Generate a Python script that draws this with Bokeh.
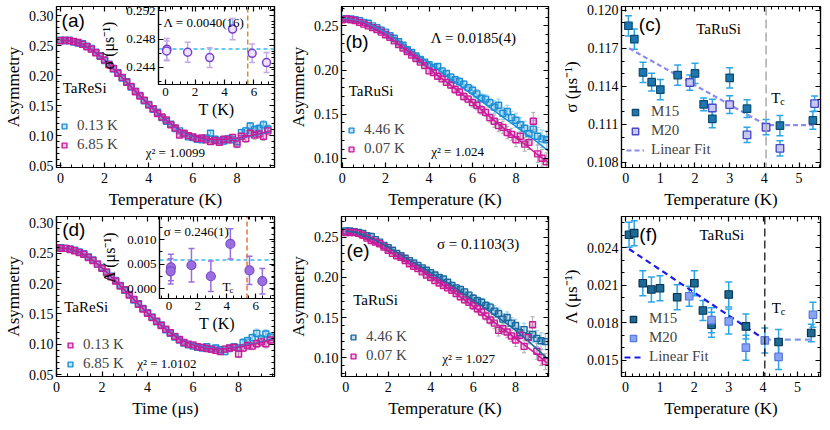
from bokeh.plotting import figure
from bokeh.models import (Range1d, LinearAxis, SingleIntervalTicker, PrintfTickFormatter,
                          Label, Legend, LegendItem, Span)
from bokeh.layouts import row, column
from bokeh.embed import file_html
from bokeh.resources import INLINE

SERIF = "Liberation Serif"
SANS = "Liberation Sans"

# ---------------- data ----------------
time_bins = [0.0, 0.2, 0.4, 0.6, 0.8, 1.0, 1.2, 1.4, 1.6, 1.8,
             2.0, 2.2, 2.4, 2.6, 2.8, 3.0, 3.2, 3.4, 3.6, 3.8,
             4.0, 4.2, 4.4, 4.6, 4.8, 5.0, 5.2, 5.4, 5.6, 5.8,
             6.0, 6.2, 6.4, 6.6, 6.8, 7.0, 7.2, 7.4, 7.6, 7.8,
             8.0, 8.2, 8.4, 8.6, 8.8, 9.0, 9.2, 9.4]
fit_t = [0.0, 0.5, 1.0, 1.5, 2.0, 2.5, 3.0, 3.5, 4.0, 4.5,
         5.0, 5.5, 6.0, 6.5, 7.0, 7.5, 8.0, 8.5, 9.0, 9.5]

err_ReSi = [0.0015] * 10 + [0.002] * 10 + [0.0025] * 5 + [0.003] * 5 + [0.004] * 5 + [0.005] * 5 + [0.006] * 4 + [0.007] * 4
err_RuSi = [0.0015] * 10 + [0.002] * 10 + [0.003] * 5 + [0.004] * 5 + [0.005] * 5 + [0.007] * 5 + [0.008] * 4 + [0.010] * 4

# (a) TaReSi
a_013K = [0.259, 0.258, 0.259, 0.256, 0.254, 0.253, 0.249, 0.245, 0.239, 0.233,
          0.225, 0.219, 0.211, 0.205, 0.196, 0.190, 0.181, 0.174, 0.167, 0.158,
          0.152, 0.144, 0.139, 0.130, 0.124, 0.119, 0.112, 0.108, 0.103, 0.098,
          0.097, 0.094, 0.093, 0.096, 0.104, 0.094, 0.092, 0.091, 0.095, 0.093,
          0.090, 0.105, 0.108, 0.116, 0.110, 0.112, 0.118, 0.111]
a_685K = [0.258, 0.259, 0.258, 0.257, 0.255, 0.252, 0.248, 0.244, 0.238, 0.232,
          0.226, 0.218, 0.212, 0.204, 0.197, 0.189, 0.182, 0.173, 0.166, 0.159,
          0.151, 0.145, 0.137, 0.131, 0.126, 0.118, 0.113, 0.101, 0.104, 0.100,
          0.098, 0.095, 0.096, 0.093, 0.090, 0.092, 0.089, 0.094, 0.093, 0.097,
          0.086, 0.099, 0.095, 0.104, 0.101, 0.103, 0.099, 0.108]
fit_a_013K = [0.259, 0.2575, 0.252, 0.241, 0.226, 0.208, 0.189, 0.170, 0.151, 0.134,
              0.119, 0.107, 0.099, 0.094, 0.093, 0.093, 0.095, 0.098, 0.102, 0.107]
fit_a_685K = [0.259, 0.2575, 0.252, 0.241, 0.226, 0.208, 0.189, 0.170, 0.152, 0.135,
              0.120, 0.108, 0.100, 0.095, 0.093, 0.094, 0.096, 0.099, 0.103, 0.108]

# (b) TaRuSi
b_446K = [0.258, 0.258, 0.258, 0.257, 0.256, 0.254, 0.253, 0.250, 0.248, 0.245,
          0.243, 0.239, 0.236, 0.232, 0.228, 0.223, 0.220, 0.216, 0.212, 0.209,
          0.206, 0.203, 0.204, 0.199, 0.196, 0.192, 0.189, 0.187, 0.184, 0.180,
          0.177, 0.173, 0.168, 0.167, 0.163, 0.158, 0.160, 0.151, 0.153, 0.146,
          0.143, 0.138, 0.134, 0.128, 0.133, 0.125, 0.122, 0.121]
b_007K = [0.257, 0.258, 0.257, 0.256, 0.254, 0.252, 0.250, 0.248, 0.246, 0.243,
          0.240, 0.237, 0.233, 0.229, 0.225, 0.221, 0.217, 0.213, 0.209, 0.205,
          0.199, 0.197, 0.193, 0.190, 0.186, 0.183, 0.178, 0.175, 0.170, 0.167,
          0.163, 0.160, 0.155, 0.152, 0.146, 0.142, 0.137, 0.135, 0.129, 0.127,
          0.121, 0.125, 0.116, 0.118, 0.142, 0.105, 0.100, 0.096]
fit_b_446K = [0.258, 0.257, 0.254, 0.249, 0.243, 0.235, 0.226, 0.217, 0.208, 0.199,
              0.190, 0.181, 0.172, 0.163, 0.154, 0.145, 0.136, 0.127, 0.118, 0.108]
fit_b_007K = [0.257, 0.256, 0.253, 0.247, 0.240, 0.231, 0.222, 0.212, 0.202, 0.192,
              0.183, 0.173, 0.163, 0.153, 0.143, 0.133, 0.123, 0.114, 0.104, 0.095]

# (c) sigma vs T
c_T_M15 = [0.08, 0.25, 0.5, 0.75, 1.0, 1.5, 2.0, 2.25, 2.5, 3.0, 3.5, 4.45, 5.4]
c_sig_M15 = [0.11878, 0.11772, 0.11510, 0.11433, 0.11375, 0.11489, 0.11502, 0.11258,
             0.11144, 0.11467, 0.11224, 0.11091, 0.11131]
c_err_M15 = [0.0008, 0.0008, 0.0008, 0.0007, 0.0008, 0.0008, 0.0008, 0.0005, 0.0007,
             0.0008, 0.0007, 0.0008, 0.0007]
c_T_M20 = [1.85, 2.5, 3.0, 3.5, 4.05, 4.45, 5.45]
c_sig_M20 = [0.11430, 0.11229, 0.11256, 0.11017, 0.11078, 0.10911, 0.11264]
c_err_M20 = [0.0006, 0.0007, 0.0007, 0.0006, 0.0006, 0.0006, 0.0006]
c_fit_T = [0.1, 4.05, 5.5]
c_fit_sig = [0.1170, 0.11095, 0.11095]
Tc_RuSi = 4.05

# (d) TaReSi (ZF)
d_013K = [0.259, 0.258, 0.258, 0.256, 0.254, 0.251, 0.248, 0.243, 0.238, 0.232,
          0.225, 0.219, 0.211, 0.204, 0.196, 0.190, 0.181, 0.174, 0.166, 0.158,
          0.151, 0.144, 0.138, 0.131, 0.125, 0.119, 0.113, 0.108, 0.103, 0.100,
          0.099, 0.096, 0.095, 0.093, 0.092, 0.090, 0.088, 0.092, 0.094, 0.095,
          0.084, 0.094, 0.098, 0.097, 0.101, 0.104, 0.101, 0.107]
d_685K = [0.259, 0.259, 0.258, 0.257, 0.255, 0.252, 0.249, 0.244, 0.239, 0.232,
          0.226, 0.218, 0.212, 0.205, 0.197, 0.189, 0.182, 0.173, 0.167, 0.159,
          0.152, 0.145, 0.137, 0.132, 0.124, 0.118, 0.112, 0.107, 0.102, 0.099,
          0.097, 0.095, 0.094, 0.096, 0.092, 0.094, 0.091, 0.088, 0.093, 0.096,
          0.094, 0.103, 0.106, 0.111, 0.118, 0.109, 0.117, 0.112]
fit_d_013K = [0.259, 0.2575, 0.252, 0.241, 0.226, 0.208, 0.189, 0.170, 0.151, 0.134,
              0.119, 0.107, 0.099, 0.094, 0.092, 0.093, 0.095, 0.099, 0.103, 0.108]
fit_d_685K = [0.259, 0.2575, 0.252, 0.241, 0.226, 0.208, 0.189, 0.170, 0.152, 0.135,
              0.120, 0.108, 0.100, 0.095, 0.093, 0.094, 0.096, 0.100, 0.104, 0.109]

# (e) TaRuSi
e_446K = [0.258, 0.258, 0.257, 0.256, 0.255, 0.252, 0.251, 0.247, 0.244, 0.240,
          0.237, 0.234, 0.230, 0.227, 0.224, 0.221, 0.218, 0.215, 0.212, 0.209,
          0.206, 0.203, 0.200, 0.198, 0.194, 0.190, 0.187, 0.185, 0.182, 0.178,
          0.174, 0.171, 0.169, 0.165, 0.163, 0.158, 0.155, 0.148, 0.150, 0.143,
          0.140, 0.131, 0.135, 0.126, 0.129, 0.124, 0.121, 0.120]
e_007K = [0.256, 0.256, 0.256, 0.255, 0.253, 0.249, 0.246, 0.244, 0.242, 0.238,
          0.234, 0.230, 0.227, 0.225, 0.221, 0.217, 0.214, 0.211, 0.207, 0.203,
          0.200, 0.196, 0.193, 0.190, 0.187, 0.184, 0.180, 0.176, 0.172, 0.169,
          0.165, 0.161, 0.157, 0.152, 0.147, 0.143, 0.134, 0.136, 0.132, 0.127,
          0.122, 0.128, 0.114, 0.125, 0.141, 0.108, 0.100, 0.095]
fit_e_446K = [0.258, 0.256, 0.251, 0.245, 0.238, 0.230, 0.222, 0.214, 0.206, 0.198,
              0.190, 0.181, 0.172, 0.163, 0.153, 0.144, 0.134, 0.123, 0.111, 0.099]
fit_e_007K = [0.256, 0.252, 0.247, 0.240, 0.233, 0.225, 0.217, 0.209, 0.200, 0.192,
              0.183, 0.174, 0.164, 0.154, 0.144, 0.134, 0.124, 0.114, 0.104, 0.093]

# (f) Lambda vs T
f_T_M15 = [0.1, 0.25, 0.5, 0.75, 1.0, 1.5, 2.0, 2.25, 2.5, 3.0, 3.5, 4.45, 5.4]
f_lam_M15 = [0.02504, 0.02517, 0.02116, 0.02066, 0.02076, 0.02004, 0.02116, 0.01898,
             0.01784, 0.02026, 0.01771, 0.01646, 0.01718]
f_err_M15 = [0.0010, 0.0010, 0.0010, 0.0010, 0.0010, 0.0010, 0.0010, 0.0008, 0.0010,
             0.0010, 0.0010, 0.0010, 0.0007]
f_T_M20 = [1.85, 2.5, 3.0, 3.5, 4.05, 4.45, 5.45]
f_lam_M20 = [0.02012, 0.01821, 0.01811, 0.01601, 0.01659, 0.01527, 0.01864]
f_err_M20 = [0.0008, 0.0010, 0.0010, 0.0010, 0.0010, 0.0010, 0.0010]
f_fit_lin_T = [0.1, 4.05]
f_fit_lin_lam = [0.0239, 0.01665]
f_fit_flat_T = [4.05, 5.5]
f_fit_flat_lam = [0.01665, 0.01665]

# insets
ia_T = [0.09, 0.07, 1.5, 3.0, 4.55, 5.88, 6.86]
ia_sig = [0.24657, 0.24634, 0.24615, 0.24540, 0.24942, 0.24600, 0.24470]
ia_err = [0.0015, 0.0014, 0.0014, 0.0014, 0.0015, 0.0013, 0.0014]
ia_sig_const = 0.24661
ia_Tc = 5.58

id_T = [0.14, 0.12, 1.56, 2.9, 4.25, 5.57, 6.46]
id_lam = [0.0043, 0.0035, 0.00475, 0.0025, 0.0091, 0.0037, 0.0015]
id_err = [0.0027, 0.0026, 0.0034, 0.0031, 0.0031, 0.0029, 0.0026]
id_lam_const = 0.0058
id_Tc = 5.4

# ---------------- helpers ----------------
def style_axis(ax, tick_size="14px", label_size="17px", labels=True, tick_standoff=3, label_standoff=3):
    ax.major_tick_in = 5
    ax.major_tick_out = 0
    ax.minor_tick_in = 3
    ax.minor_tick_out = 0
    ax.axis_line_color = "black"
    ax.axis_line_width = 1.2
    ax.major_tick_line_width = 1.2
    ax.minor_tick_line_width = 1
    ax.major_label_text_font = SERIF
    ax.major_label_text_color = "black"
    ax.axis_label_text_font = SERIF
    ax.axis_label_text_font_style = "normal"
    ax.axis_label_text_color = "black"
    if labels:
        ax.major_label_text_font_size = tick_size
        ax.axis_label_text_font_size = label_size
        ax.major_label_standoff = tick_standoff
        ax.axis_label_standoff = label_standoff
    else:
        ax.major_label_text_font_size = "0px"
        ax.major_label_text_color = None
        ax.major_label_standoff = 0
        ax.axis_label = None


def make_fig(xr, yr, fw, fh, bl, br, bt, bb, xint, xminor, yint, yminor, yfmt, xlabel, ylabel):
    p = figure(frame_width=fw, frame_height=fh, x_range=Range1d(*xr), y_range=Range1d(*yr),
               toolbar_location=None, output_backend="svg",
               min_border_left=bl, min_border_right=br, min_border_top=bt, min_border_bottom=bb,
               x_axis_label=xlabel, y_axis_label=ylabel)
    p.grid.visible = False
    p.outline_line_color = "black"
    p.outline_line_width = 1.2
    p.background_fill_color = "white"
    p.border_fill_color = "white"
    xa = p.below[0]
    ya = p.left[0]
    xa.ticker = SingleIntervalTicker(interval=xint, num_minor_ticks=xminor)
    ya.ticker = SingleIntervalTicker(interval=yint, num_minor_ticks=yminor)
    xa.formatter = PrintfTickFormatter(format="%d")
    ya.formatter = PrintfTickFormatter(format=yfmt)
    style_axis(xa, tick_standoff=5, label_standoff=4)
    style_axis(ya, tick_standoff=3, label_standoff=3)
    top = LinearAxis(ticker=SingleIntervalTicker(interval=xint, num_minor_ticks=xminor))
    right = LinearAxis(ticker=SingleIntervalTicker(interval=yint, num_minor_ticks=yminor))
    style_axis(top, labels=False)
    style_axis(right, labels=False)
    p.add_layout(top, "above")
    p.add_layout(right, "right")
    return p


def errbars(p, x, y, e, color, width=1.0, cap=5, **kw):
    lo = [yy - ee for yy, ee in zip(y, e)]
    hi = [yy + ee for yy, ee in zip(y, e)]
    p.segment(x0=x, x1=x, y0=lo, y1=hi, line_color=color, line_width=width, **kw)
    p.scatter(x=x, y=lo, marker="dash", size=cap, line_color=color, line_width=width, **kw)
    p.scatter(x=x, y=hi, marker="dash", size=cap, line_color=color, line_width=width, **kw)


def label(p, x, y, text, size="15px", font=SERIF, align="left", baseline="middle", **kw):
    p.add_layout(Label(x=x, y=y, text=text, text_font=font, text_font_size=size,
                       text_align=align, text_baseline=baseline, text_color="black", **kw))


def tc_label(p, x, y, size=15, **kw):
    label(p, x, y, "T", size=f"{size}px", **kw)
    label(p, x, y, "c", size=f"{int(size * 0.7)}px", x_offset=int(size * 0.6), y_offset=-4, **kw)


def legend(p, items, x, y, gw=12):
    lg = Legend(items=[LegendItem(label=t, renderers=[r]) for t, r in items],
                location=(x, y), orientation="vertical",
                border_line_color=None, background_fill_alpha=0,
                padding=0, margin=0, spacing=2, glyph_height=16, glyph_width=gw,
                label_height=16, label_standoff=7,
                label_text_font=SERIF, label_text_font_size="15px")
    p.add_layout(lg)


def inset(p, fx0, fy0, xr, yr, xint, xminor, yint, yminor, yfmt, xlabel, ylabel):
    ix0, ix1 = xr
    iy0, iy1 = yr
    p.extra_x_ranges["ix"] = Range1d(ix1 - (ix1 - ix0) / (1 - fx0), ix1)
    p.extra_y_ranges["iy"] = Range1d(iy1 - (iy1 - iy0) / (1 - fy0), iy1)
    p.quad(left=[ix0], right=[ix1], bottom=[iy0], top=[iy1], x_range_name="ix", y_range_name="iy",
           fill_color="white", line_color="black", line_width=1.2)
    kw = dict(x_range_name="ix", y_range_name="iy")
    bx = LinearAxis(fixed_location=iy0, bounds=(ix0, ix1), axis_label=xlabel,
                    ticker=SingleIntervalTicker(interval=xint, num_minor_ticks=xminor),
                    formatter=PrintfTickFormatter(format="%d"), **kw)
    ly = LinearAxis(fixed_location=ix0, bounds=(iy0, iy1), axis_label=ylabel,
                    ticker=SingleIntervalTicker(interval=yint, num_minor_ticks=yminor),
                    formatter=PrintfTickFormatter(format=yfmt), **kw)
    tx = LinearAxis(fixed_location=iy1, bounds=(ix0, ix1),
                    ticker=SingleIntervalTicker(interval=xint, num_minor_ticks=xminor), **kw)
    ry = LinearAxis(fixed_location=ix1, bounds=(iy0, iy1),
                    ticker=SingleIntervalTicker(interval=yint, num_minor_ticks=yminor), **kw)
    style_axis(bx, tick_size="13px", label_size="16px", tick_standoff=3, label_standoff=2)
    style_axis(ly, tick_size="13px", label_size="16px", tick_standoff=3, label_standoff=6)
    for a in (tx, ry):
        style_axis(a, labels=False)
    p.add_layout(bx, "below")
    p.add_layout(ly, "left")
    p.add_layout(tx, "above")
    p.add_layout(ry, "right")
    return kw


BLUE = "#1a8fd6"
BLUE_D = "#17699e"
MAG = "#cc1a9a"
ERR_B = "#8ccbee"
ERR_G = "#ababab"


def asym_panel(p, t, yb, yc, eb, ec, fb, fc, colb, colm):
    errbars(p, t, yb, eb, ERR_B, cap=4)
    errbars(p, t, yc, ec, ERR_G, cap=4)
    rb = p.scatter(t, yb, marker="square", size=6, line_color=colb, fill_color=colb,
                   fill_alpha=0.25, line_width=1.4)
    rm = p.scatter(t, yc, marker="square", size=6, line_color=colm, fill_color=colm,
                   fill_alpha=0.25, line_width=1.4)
    p.line(fit_t, fb, line_color=colb, line_width=1.5)
    p.line(fit_t, fc, line_color=colm, line_width=1.5)
    return rb, rm


# ---------------- layout constants ----------------
FW1, FW2, FW3 = 218, 207, 199
BL1, BL2, BL3 = 51, 51, 66
BR1, BR2, BR3 = 11, 7, 4
FH1, BT1, BB1 = 161, 6, 45
FH2, BT2, BB2 = 160, 4, 45

# (a)
pa = make_fig((-0.18, 9.7), (0.047, 0.315), FW1, FH1, BL1, BR1, BT1, BB1,
              2, 4, 0.05, 5, "%.2f", "Temperature (K)", "Asymmetry")
rb, rm = asym_panel(pa, time_bins, a_013K, a_685K, err_ReSi, err_ReSi,
                    fit_a_013K, fit_a_685K, BLUE, MAG)
legend(pa, [("0.13 K", rb), ("6.85 K", rm)], 2, 14)
label(pa, 0.05, 0.309, "(a)", size="19px", font=SANS, baseline="top")
label(pa, 0.1, 0.18, "TaReSi")
label(pa, 3.86, 0.072, "χ² = 1.0099", size="13px")
kw = inset(pa, (161 - 59) / 218, 1 - 78 / 161, (-0.48, 7.4), (0.2416, 0.2526),
           2, 4, 0.004, 2, "%.3f", "T (K)", "σ (μs⁻¹)")
pa.segment(x0=[-0.48], x1=[7.4], y0=[ia_sig_const], y1=[ia_sig_const], line_color="#33bbee",
           line_width=1.5, line_dash="4 3", **kw)
pa.segment(x0=[ia_Tc], x1=[ia_Tc], y0=[0.2416], y1=[0.2526], line_color="#d8901a",
           line_width=1.5, line_dash="5 3", **kw)
errbars(pa, ia_T, ia_sig, ia_err, "#c4a8ec", width=1.5, cap=6, **kw)
pa.scatter(ia_T, ia_sig, marker="circle", size=8, line_color="#7b3fd4", fill_color="#ece2fb",
           line_width=1.5, **kw)
label(pa, -0.14, 0.2504, "Λ = 0.0040(16)", size="13px", **kw)

# (b)
pb = make_fig((-0.03, 9.5), (0.0895, 0.272), FW2, FH1, BL2, BR2, BT1, BB1,
              2, 4, 0.05, 5, "%.2f", "Temperature (K)", "Asymmetry")
rb, rm = asym_panel(pb, time_bins, b_446K, b_007K, err_RuSi, err_RuSi,
                    fit_b_446K, fit_b_007K, BLUE, MAG)
legend(pb, [("4.46 K", rb), ("0.07 K", rm)], 4, 10)
label(pb, 0.15, 0.244, "(b)", size="19px", font=SANS, baseline="top")
label(pb, 4.08, 0.2364, "Λ = 0.0185(4)")
label(pb, 0.3, 0.1767, "TaRuSi")
label(pb, 4.1, 0.108, "χ² = 1.024", size="13px")

# (c)
pc = make_fig((-0.12, 5.62), (0.1076, 0.1203), FW3, FH1, BL3, BR3, BT1, BB1,
              1, 5, 0.003, 3, "%.3f", "Temperature (K)", "σ (μs⁻¹)")
pc.add_layout(Span(location=Tc_RuSi, dimension="height", line_color="#aaaaaa",
                   line_width=1.5, line_dash="9 4"))
errbars(pc, c_T_M15, c_sig_M15, c_err_M15, "#2aa6e6", width=1.5, cap=7)
errbars(pc, c_T_M20, c_sig_M20, c_err_M20, "#2aa6e6", width=1.5, cap=7)
rfit = pc.line(c_fit_T, c_fit_sig, line_color="#8a8af0", line_width=2.2, line_dash="5 3")
r15 = pc.scatter(c_T_M15, c_sig_M15, marker="square", size=7.5, fill_color="#1f77b0",
                 line_color="#0d4a70", line_width=1.2)
r20 = pc.scatter(c_T_M20, c_sig_M20, marker="square", size=7.5, fill_color="#c8c8f4",
                 line_color="#4a4ac8", line_width=1.4)
legend(pc, [("M15", r15), ("M20", r20), ("Linear Fit", rfit)], 5, 9, gw=18)
label(pc, 0.38, 0.1197, "(c)", size="19px", font=SANS, baseline="top")
label(pc, 2.68, 0.1185, "TaRuSi", align="center")
tc_label(pc, 4.2, 0.1131)

# (d)
pd_ = make_fig((0.0, 9.58), (0.047, 0.3104), FW1, FH2, BL1, BR1, BT2, BB2,
               2, 4, 0.05, 5, "%.2f", "Time (μs)", "Asymmetry")
errbars(pd_, time_bins, d_685K, err_ReSi, ERR_B, cap=4)
errbars(pd_, time_bins, d_013K, err_ReSi, ERR_G, cap=4)
rb_d = pd_.scatter(time_bins, d_685K, marker="square", size=6, line_color=BLUE, fill_color=BLUE,
                   fill_alpha=0.25, line_width=1.4)
rm_d = pd_.scatter(time_bins, d_013K, marker="square", size=6, line_color=MAG, fill_color=MAG,
                   fill_alpha=0.25, line_width=1.4)
pd_.line(fit_t, fit_d_685K, line_color=BLUE, line_width=1.5)
pd_.line(fit_t, fit_d_013K, line_color=MAG, line_width=1.5)
legend(pd_, [("0.13 K", rm_d), ("6.85 K", rb_d)], 8, 4)
label(pd_, 0.25, 0.306, "(d)", size="19px", font=SANS, baseline="top")
label(pd_, 0.34, 0.161, "TaReSi")
label(pd_, 3.55, 0.0687, "χ² = 1.0102", size="13px")
kw = inset(pd_, (162 - 59) / 218, 1 - 82 / 160, (-0.65, 7.3), (-0.00204, 0.0147),
           2, 4, 0.005, 2, "%.3f", "T (K)", "Λ (μs⁻¹)")
pd_.segment(x0=[-0.65], x1=[7.3], y0=[id_lam_const], y1=[id_lam_const], line_color="#33bbee",
            line_width=1.5, line_dash="4 3", **kw)
pd_.segment(x0=[id_Tc], x1=[id_Tc], y0=[-0.00204], y1=[0.0147], line_color="#f07030",
            line_width=1.5, line_dash="5 3", **kw)
errbars(pd_, id_T, id_lam, id_err, "#9b6ee0", width=1.5, cap=6, **kw)
pd_.scatter(id_T, id_lam, marker="circle", size=9, line_color="#7a4ac8", fill_color="#9b6ee0",
            line_width=1.2, **kw)
label(pd_, -0.36, 0.0116, "σ = 0.246(1)", size="13px", **kw)
tc_label(pd_, 3.7, 0.0005, size=13, **kw)

# (e)
pe = make_fig((-0.2, 9.55), (0.0765, 0.276), FW2, FH2, BL2, BR2, BT2, BB2,
              2, 4, 0.05, 5, "%.2f", "Temperature (K)", "Asymmetry")
rb, rm = asym_panel(pe, time_bins, e_446K, e_007K, err_RuSi, err_RuSi,
                    fit_e_446K, fit_e_007K, BLUE_D, MAG)
legend(pe, [("4.46 K", rb), ("0.07 K", rm)], 6, 12)
label(pe, 0.03, 0.234, "(e)", size="19px", font=SANS, baseline="middle")
label(pe, 4.3, 0.2413, "σ = 0.1103(3)")
label(pe, 0.35, 0.172, "TaRuSi")
label(pe, 4.55, 0.099, "χ² = 1.027", size="13px")

# (f)
pf = make_fig((-0.12, 5.67), (0.0137, 0.0265), FW3, FH2, BL3, BR3, BT2, BB2,
              1, 5, 0.003, 3, "%.3f", "Temperature (K)", "Λ (μs⁻¹)")
pf.add_layout(Span(location=Tc_RuSi, dimension="height", line_color="black",
                   line_width=1.2, line_dash="8 4"))
errbars(pf, f_T_M15, f_lam_M15, f_err_M15, "#2aa6e6", width=1.5, cap=7)
errbars(pf, f_T_M20, f_lam_M20, f_err_M20, "#2aa6e6", width=1.5, cap=7)
rfit = pf.line(f_fit_lin_T, f_fit_lin_lam, line_color="#1c1ce6", line_width=2.2, line_dash="6 4")
pf.line(f_fit_flat_T, f_fit_flat_lam, line_color="#7d98f0", line_width=2.2, line_dash="6 4")
r15 = pf.scatter(f_T_M15, f_lam_M15, marker="square", size=7.5, fill_color="#1e6a96",
                 line_color="#0a3350", line_width=1.2)
r20 = pf.scatter(f_T_M20, f_lam_M20, marker="square", size=7.5, fill_color="#86a4f2",
                 line_color="#5a78dc", line_width=1.2)
legend(pf, [("M15", r15), ("M20", r20), ("Linear Fit", rfit)], 3, 11, gw=18)
label(pf, 0.4, 0.0251, "(f)", size="19px", font=SANS, baseline="middle")
label(pf, 2.8, 0.0250, "TaRuSi", align="center")
tc_label(pf, 4.25, 0.0192)

layout = column(row(pa, pb, pc), row(pd_, pe, pf))
open("out.html", "w").write(file_html(layout, INLINE))
